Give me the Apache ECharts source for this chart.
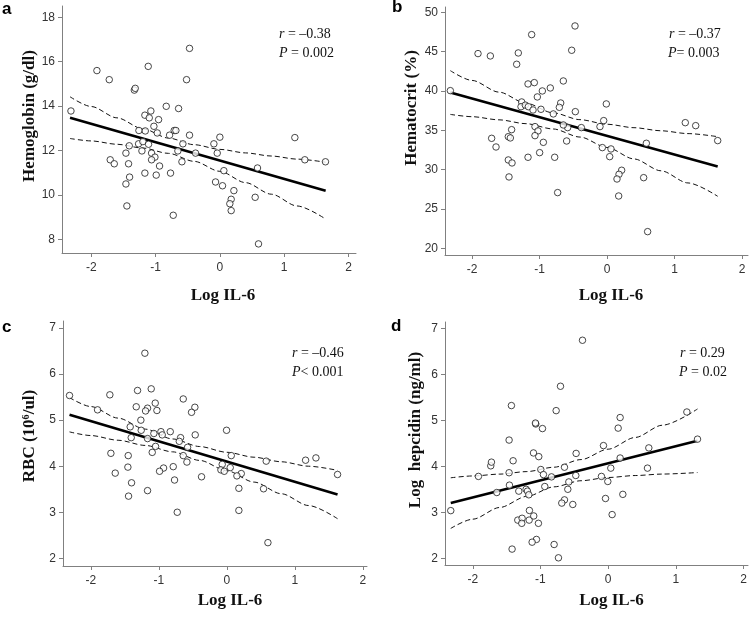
<!DOCTYPE html>
<html><head><meta charset="utf-8">
<script src="https://cdn.jsdelivr.net/npm/echarts@6/dist/echarts.min.js"></script>
<style>html,body{margin:0;padding:0;background:#fff}#c{width:750px;height:617px}</style>
</head><body><div id="c"></div>
<script>
// ---- tick labels ----
const xTicks = [-2, -1, 0, 1, 2];
const aTicks = [8, 10, 12, 14, 16, 18];
const bTicks = [20, 25, 30, 35, 40, 45, 50];
const cTicks = [2, 3, 4, 5, 6, 7];
const dTicks = [2, 3, 4, 5, 6, 7];

// ---- panel a: Hemoglobin ----
const aPoints = [[-2.316,13.78],[-1.912,15.6],[-1.72,15.19],[-1.33,14.72],[-1.316,14.8],[-1.114,15.79],[-0.472,16.6],[-0.518,15.19],[-0.834,13.99],[-0.642,13.89],[-1.073,13.78],[-1.166,13.59],[-1.098,13.47],[-0.953,13.39],[-1.026,13.09],[-1.259,12.9],[-1.16,12.88],[-0.974,12.79],[-0.71,12.9],[-0.684,12.9],[-0.782,12.69],[-0.472,12.69],[0,12.6],[-1.264,12.3],[-1.197,12.4],[-1.409,12.21],[-1.109,12.28],[-0.575,12.3],[-0.093,12.3],[-1.212,11.98],[-1.461,11.88],[-1.062,11.88],[-0.653,11.98],[-0.378,11.88],[-0.041,11.88],[-1.01,11.7],[-1.062,11.58],[-1.705,11.58],[-1.642,11.4],[-1.42,11.4],[-0.938,11.3],[-0.59,11.49],[-1.166,10.98],[-0.99,10.89],[-0.767,10.98],[-1.404,10.8],[-1.461,10.49],[0.062,11.09],[-0.067,10.58],[0.041,10.41],[0.218,10.19],[0.176,9.8],[0.155,9.6],[0.176,9.29],[0.585,11.21],[0.549,9.89],[0.601,7.79],[-1.446,9.5],[-0.725,9.08],[1.166,12.58],[1.321,11.58],[1.642,11.49]];
const aFit = [[-2.33,13.48],[1.645,10.19]];
const aUpper = [[-2.33,14.42],[-2.0,13.98],[-1.6,13.47],[-1.2,12.98],[-0.8,12.56],[-0.4,12.26],[0,12.05],[0.4,11.89],[0.8,11.75],[1.2,11.61],[1.645,11.47]];
const aLower = [[-2.33,12.54],[-2.0,12.43],[-1.6,12.28],[-1.2,12.11],[-0.8,11.87],[-0.4,11.51],[0,11.06],[0.4,10.55],[0.8,10.03],[1.2,9.5],[1.645,8.91]];

// ---- panel b: Hematocrit ----
const bPoints = [[-2.321,40.04],[-1.911,44.75],[-1.728,44.45],[-1.116,47.16],[-0.474,48.26],[-0.523,45.17],[-1.314,44.83],[-1.338,43.39],[-1.17,40.89],[-1.077,41.06],[-0.647,41.27],[-0.84,40.38],[-0.958,40.0],[-1.032,39.24],[-1.264,38.6],[-1.274,38.0],[-1.21,38.2],[-1.165,38.0],[-1.096,37.58],[-0.978,37.67],[-0.686,38.47],[-0.706,37.92],[-0.795,37.08],[-0.469,37.37],[-0.01,38.35],[-0.049,36.23],[-0.104,35.47],[-0.38,35.34],[-0.583,35.34],[-0.647,35.68],[-1.067,35.47],[-1.022,34.92],[-1.067,34.32],[-1.413,35.08],[-1.462,34.19],[-1.432,34.03],[-1.709,33.98],[-1.644,32.88],[-0.943,33.47],[-0.598,33.64],[-0.998,32.16],[-1.17,31.57],[-0.775,31.57],[-1.462,31.23],[-1.407,30.85],[-1.452,29.07],[-0.731,27.08],[-0.069,32.8],[0.059,32.63],[0.04,31.65],[0.217,29.92],[0.178,29.41],[0.148,28.81],[0.173,26.65],[0.583,33.35],[0.543,28.98],[0.602,22.12],[1.16,35.97],[1.314,35.59],[1.64,33.69]];
const bFit = [[-2.321,39.8],[1.64,30.4]];
const bUpper = [[-2.321,42.58],[-2.0,41.34],[-1.6,39.85],[-1.2,38.44],[-0.8,37.22],[-0.4,36.35],[0,35.77],[0.4,35.33],[0.8,34.94],[1.2,34.58],[1.64,34.19]];
const bLower = [[-2.321,37.02],[-2.0,36.73],[-1.6,36.33],[-1.2,35.84],[-0.8,35.17],[-0.4,34.14],[0,32.82],[0.4,31.36],[0.8,29.85],[1.2,28.31],[1.64,26.61]];

// ---- panel c: RBC ----
const cPoints = [[-2.314,5.535],[-1.902,5.224],[-1.721,5.55],[-1.206,6.454],[-1.314,5.644],[-1.113,5.68],[-1.333,5.29],[-1.167,5.26],[-1.196,5.2],[-1.054,5.37],[-1.029,5.21],[-0.642,5.46],[-0.471,5.28],[-0.52,5.17],[-1.265,5.0],[-1.422,4.855],[-1.26,4.78],[-1.407,4.62],[-1.167,4.6],[-1.074,4.71],[-0.97,4.75],[-0.951,4.68],[-0.833,4.75],[-0.681,4.62],[-0.7,4.54],[-0.466,4.68],[-0.578,4.41],[-1.049,4.43],[-1.098,4.3],[-1.706,4.28],[-1.451,4.23],[-0.642,4.23],[-0.588,4.09],[-0.005,4.78],[0.064,4.23],[-0.069,4.04],[-0.088,3.92],[-0.039,3.89],[0.049,3.97],[-0.789,3.99],[-0.931,3.96],[-0.99,3.89],[-1.456,3.98],[-1.642,3.85],[-0.373,3.77],[0.211,3.84],[0.147,3.79],[-0.77,3.7],[-1.402,3.64],[-1.167,3.47],[-1.446,3.35],[-0.73,3.0],[0.176,3.52],[0.176,3.04],[0.578,4.11],[0.539,3.51],[0.603,2.34],[1.157,4.13],[1.309,4.18],[1.627,3.82]];
const cFit = [[-2.314,5.118],[1.627,3.385]];
const cUpper = [[-2.314,5.49],[-2.0,5.295],[-1.6,5.044],[-1.2,4.805],[-0.8,4.592],[-0.4,4.427],[0,4.302],[0.4,4.195],[0.8,4.096],[1.2,4.0],[1.627,3.91]];
const cLower = [[-2.314,4.745],[-2.0,4.666],[-1.6,4.564],[-1.2,4.451],[-0.8,4.312],[-0.4,4.126],[0,3.9],[0.4,3.655],[0.8,3.402],[1.2,3.146],[1.627,2.86]];

// ---- panel d: Log hepcidin ----
const dPoints = [[-2.325,3.036],[-1.916,3.78],[-1.734,4.01],[-1.724,4.09],[-1.645,3.43],[-1.463,4.57],[-1.429,5.32],[-1.404,4.12],[-1.463,3.86],[-1.458,3.59],[-1.419,2.2],[-1.32,3.46],[-1.335,2.83],[-1.271,2.87],[-1.276,2.76],[-1.212,3.5],[-1.192,3.46],[-1.172,3.38],[-1.163,3.04],[-1.167,2.83],[-1.099,2.92],[-1.03,2.76],[-1.059,2.41],[-1.123,2.35],[-1.103,4.29],[-1.025,4.21],[-1.069,4.92],[-1.074,4.94],[-0.97,4.82],[-0.995,3.93],[-0.956,3.82],[-0.936,3.56],[-0.837,3.77],[-0.768,5.21],[-0.704,5.74],[-0.645,3.98],[-0.581,3.66],[-0.596,3.5],[-0.645,3.27],[-0.685,3.2],[-0.522,3.17],[-0.734,2.01],[-0.798,2.3],[-0.379,6.74],[-0.473,4.28],[-0.478,3.8],[-0.099,3.78],[-0.005,3.67],[-0.069,4.45],[-0.039,3.3],[0.039,3.96],[0.059,2.95],[0.217,3.39],[0.177,4.18],[0.148,4.83],[0.177,5.06],[0.601,4.4],[0.581,3.96],[1.163,5.18],[1.32,4.59]];
const dFit = [[-2.325,3.2],[1.32,4.555]];
const dUpper = [[-2.325,3.75],[-2.0,3.79],[-1.6,3.83],[-1.2,3.885],[-0.8,3.98],[-0.4,4.146],[0,4.372],[0.4,4.627],[0.8,4.893],[1.32,5.246]];
const dLower = [[-2.325,2.65],[-2.0,2.85],[-1.6,3.105],[-1.2,3.347],[-0.8,3.553],[-0.4,3.686],[0,3.756],[0.4,3.799],[0.8,3.831],[1.32,3.864]];

const panels = [
  {grid:{left:62,top:6,width:294,height:247}, x:[-2.455,2.117], y:[7.38,18.51], yt:aTicks, pts:aPoints, fit:aFit, up:aUpper, lo:aLower},
  {grid:{left:445,top:7,width:303,height:248}, x:[-2.4,2.089], y:[19.15,50.67], yt:bTicks, pts:bPoints, fit:bFit, up:bUpper, lo:bLower},
  {grid:{left:63,top:321,width:304,height:245}, x:[-2.41,2.06], y:[1.833,7.153], yt:cTicks, pts:cPoints, fit:cFit, up:cUpper, lo:cLower},
  {grid:{left:445,top:322,width:303,height:243}, x:[-2.41,2.066], y:[1.854,7.137], yt:dTicks, pts:dPoints, fit:dFit, up:dUpper, lo:dLower}
];

const axisCol = '#808080';
const lblStyle = {color:'#333', fontFamily:'"Liberation Sans", Arial, sans-serif', fontSize:12};
const grids = [], xAxes = [], yAxes = [], series = [];
panels.forEach((p, i) => {
  grids.push(Object.assign({containLabel:false}, p.grid));
  xAxes.push({type:'value', gridIndex:i, min:p.x[0], max:p.x[1],
    axisLine:{show:true, onZero:false, lineStyle:{color:axisCol, width:1}},
    axisTick:{show:true, length:4, customValues:xTicks, lineStyle:{color:axisCol}},
    axisLabel:Object.assign({customValues:xTicks, margin:9}, lblStyle),
    splitLine:{show:false}});
  yAxes.push({type:'value', gridIndex:i, min:p.y[0], max:p.y[1],
    axisLine:{show:true, onZero:false, lineStyle:{color:axisCol, width:1}},
    axisTick:{show:true, length:4, customValues:p.yt, lineStyle:{color:axisCol}},
    axisLabel:Object.assign({customValues:p.yt, margin:7}, lblStyle),
    splitLine:{show:false}});
  const dash = {color:'#111', width:1, type:[5,3]};
  series.push({type:'line', xAxisIndex:i, yAxisIndex:i, data:p.up, smooth:0.3, smoothMonotone:'x', symbol:'none', lineStyle:dash, silent:true, z:2});
  series.push({type:'line', xAxisIndex:i, yAxisIndex:i, data:p.lo, smooth:0.3, smoothMonotone:'x', symbol:'none', lineStyle:dash, silent:true, z:2});
  series.push({type:'line', xAxisIndex:i, yAxisIndex:i, data:p.fit, symbol:'none', lineStyle:{color:'#000', width:2.6}, silent:true, z:3});
  series.push({type:'scatter', xAxisIndex:i, yAxisIndex:i, data:p.pts, symbol:'circle', symbolSize:6.5,
    itemStyle:{color:'#fff', borderColor:'#1a1a1a', borderWidth:1}, silent:true, z:4});
});

const serif = '"Liberation Serif", "Times New Roman", serif';
const sans = '"Liberation Sans", Arial, sans-serif';
function letter(t, x, y){ return {type:'text', x:x, y:y, style:{text:t, font:'bold 17px ' + sans, fill:'#000', align:'left', verticalAlign:'middle'}}; }
function ytitle(t, x, y){ return {type:'text', x:x, y:y, rotation:Math.PI/2, style:{text:t, font:'bold 17px ' + serif, fill:'#111', align:'center', verticalAlign:'middle'}}; }
function xtitle(t, x, y){ return {type:'text', x:x, y:y, style:{text:t, font:'bold 17px ' + serif, fill:'#111', align:'center', verticalAlign:'middle'}}; }
function stat(t, x, y){ return {type:'text', x:x, y:y, style:{text:t, font:'14px ' + serif, fill:'#111', align:'left', verticalAlign:'middle', rich:{i:{fontStyle:'italic', fontFamily:serif, fontSize:14, fill:'#111'}}}}; }

const graphics = [
  letter('a', 2, 9), letter('b', 392, 7), letter('c', 2, 327), letter('d', 391, 326),
  ytitle('Hemoglobin (g/dl)', 30, 116), ytitle('Hematocrit (%)', 412, 108),
  ytitle('RBC (10\u2076/ul)', 30, 436), ytitle('Log  hepcidin (ng/ml)', 416, 430),
  xtitle('Log IL-6', 223, 296), xtitle('Log IL-6', 611, 296), xtitle('Log IL-6', 230, 601), xtitle('Log IL-6', 611.5, 601),
  stat('{i|r} = \u20130.38', 279, 34), stat('{i|P} = 0.002', 279, 53),
  stat('{i|r} = \u20130.37', 669, 34), stat('{i|P}= 0.003', 668, 53),
  stat('{i|r} = \u20130.46', 292, 353), stat('{i|P}< 0.001', 292, 372),
  stat('{i|r} = 0.29', 680, 353), stat('{i|P} = 0.02', 679, 372)
];

const chart = echarts.init(document.getElementById('c'), null, {renderer:'canvas'});
chart.setOption({animation:false, backgroundColor:'#fff', grid:grids, xAxis:xAxes, yAxis:yAxes, series:series, graphic:graphics});
</script></body></html>
